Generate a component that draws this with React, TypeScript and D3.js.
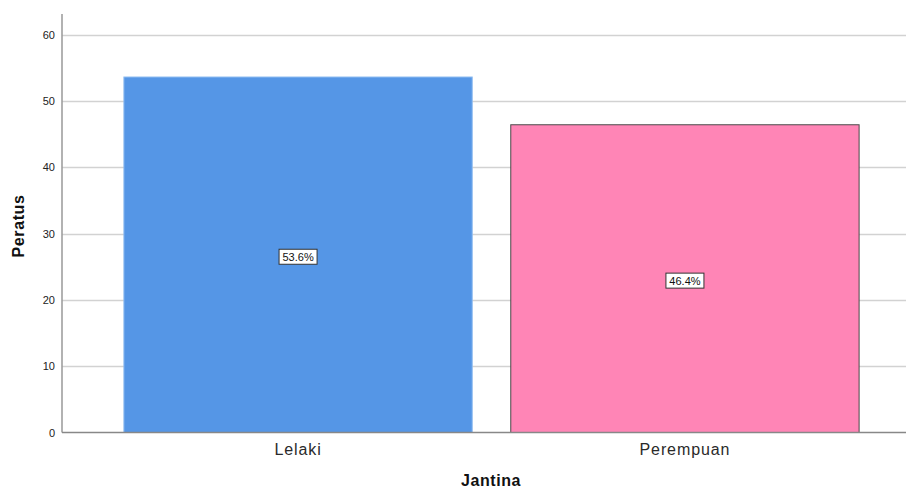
import { useRef, useEffect } from "react";
import * as d3 from "d3";

const categories = ["Lelaki", "Perempuan"];
const percents = [53.6, 46.4];
const barColors = ["#5596E6", "#FF85B6"];
const yTicks = [0, 10, 20, 30, 40, 50, 60];

export default function App() {
  const ref = useRef<SVGSVGElement>(null);

  useEffect(() => {
    const svg = d3.select(ref.current);
    svg.selectAll("*").remove();

    const width = 907;
    const height = 489;
    const left = 62;
    const right = 906;
    const bottom = 432.5;
    const top = 14;

    const font = "'Liberation Sans', Arial, sans-serif";

    const y = d3.scaleLinear().domain([0, 63.1]).range([bottom, top]);
    const x = d3
      .scaleBand<string>()
      .domain(categories)
      .range([left, 921])
      .paddingInner(0.0996)
      .paddingOuter(0.16);

    svg.attr("width", width).attr("height", height);

    // grid
    svg
      .append("g")
      .selectAll("line")
      .data(yTicks.filter((d) => d > 0))
      .join("line")
      .attr("x1", left)
      .attr("x2", right)
      .attr("y1", (d) => Math.round(y(d)) + 0.5)
      .attr("y2", (d) => Math.round(y(d)) + 0.5)
      .attr("stroke", "#d2d2d2")
      .attr("stroke-width", 1.5);

    // y tick labels
    svg
      .append("g")
      .selectAll("text")
      .data(yTicks)
      .join("text")
      .attr("x", 55)
      .attr("y", (d) => y(d) + 4)
      .attr("text-anchor", "end")
      .attr("font-family", font)
      .attr("font-size", 11)
      .attr("fill", "#222")
      .text((d) => d);

    // bars
    svg
      .append("g")
      .selectAll("rect")
      .data(percents)
      .join("rect")
      .attr("x", (_, i) => x(categories[i])!)
      .attr("y", (d) => y(d))
      .attr("width", x.bandwidth())
      .attr("height", (d) => bottom - y(d))
      .attr("fill", (_, i) => barColors[i])
      .attr("stroke", (_, i) => (i === 0 ? "#8fbcf0" : "#4a4a4a"))
      .attr("stroke-width", 1);

    // data labels
    const labels = svg
      .append("g")
      .selectAll("g")
      .data(percents)
      .join("g")
      .attr(
        "transform",
        (d, i) =>
          `translate(${x(categories[i])! + x.bandwidth() / 2},${(y(d) + bottom) / 2 + 2})`
      );
    labels
      .append("rect")
      .attr("x", -19)
      .attr("y", -7.5)
      .attr("width", 38)
      .attr("height", 15)
      .attr("fill", "#fff")
      .attr("stroke", "#333")
      .attr("stroke-width", 1);
    labels
      .append("text")
      .attr("text-anchor", "middle")
      .attr("y", 4)
      .attr("font-family", font)
      .attr("font-size", 11)
      .attr("fill", "#111")
      .text((d) => d.toFixed(1) + "%");

    // axes lines
    svg
      .append("line")
      .attr("x1", left)
      .attr("x2", left)
      .attr("y1", top)
      .attr("y2", bottom)
      .attr("stroke", "#999")
      .attr("stroke-width", 1.5);
    svg
      .append("line")
      .attr("x1", left)
      .attr("x2", right)
      .attr("y1", bottom)
      .attr("y2", bottom)
      .attr("stroke", "#888")
      .attr("stroke-width", 1.5);

    // category labels
    svg
      .append("g")
      .selectAll("text")
      .data(categories)
      .join("text")
      .attr("x", (d) => x(d)! + x.bandwidth() / 2)
      .attr("y", 455)
      .attr("text-anchor", "middle")
      .attr("font-family", font)
      .attr("font-size", 16)
      .attr("letter-spacing", 0.9)
      .attr("fill", "#2a2a2a")
      .text((d) => d);

    // axis titles
    svg
      .append("text")
      .attr("x", 491)
      .attr("y", 486)
      .attr("text-anchor", "middle")
      .attr("font-family", font)
      .attr("font-size", 16)
      .attr("letter-spacing", 0.6)
      .attr("font-weight", "bold")
      .attr("fill", "#111")
      .text("Jantina");
    svg
      .append("text")
      .attr("transform", "translate(24,226) rotate(-90)")
      .attr("text-anchor", "middle")
      .attr("font-family", font)
      .attr("font-size", 16)
      .attr("letter-spacing", 0.6)
      .attr("font-weight", "bold")
      .attr("fill", "#111")
      .text("Peratus");
  }, []);

  return (
    <svg
      ref={ref}
      style={{ position: "absolute", left: 0, top: 0, background: "#fff" }}
    />
  );
}
